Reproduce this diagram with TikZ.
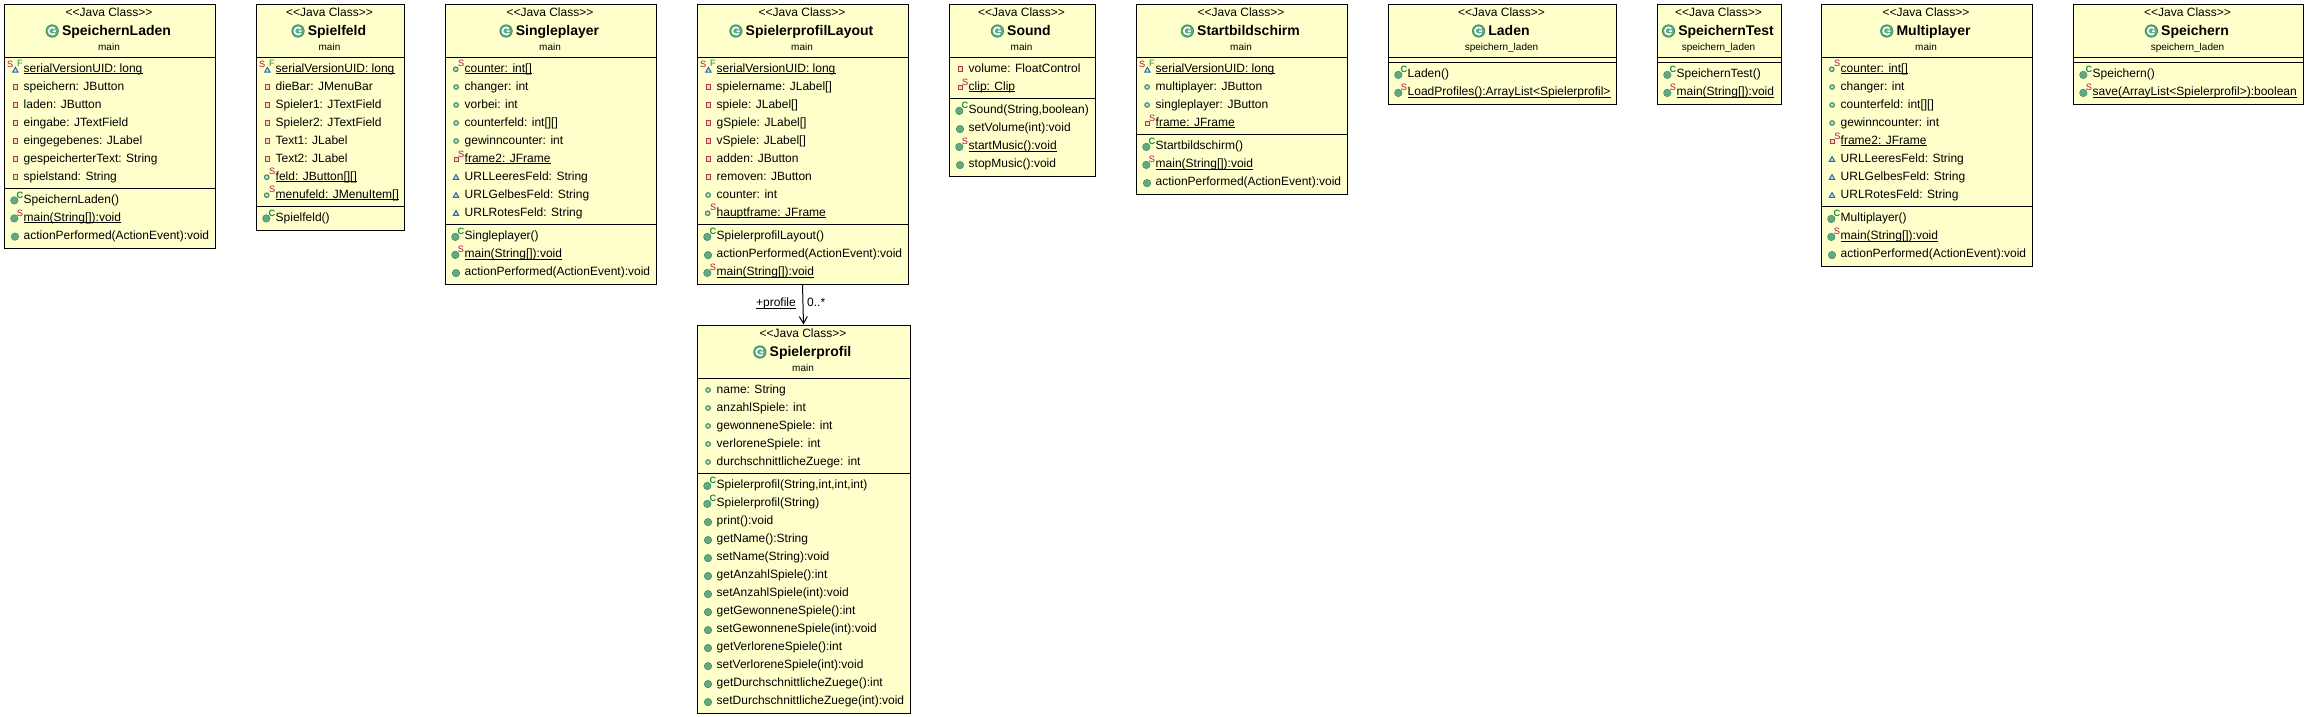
\documentclass[tikz,border=0pt]{standalone}
\usepackage{fontspec}
\setmainfont{Liberation Sans}
\usetikzlibrary{arrows.meta}
\definecolor{umlfill}{HTML}{FFFFCC}
\definecolor{iconred}{HTML}{B0384C}
\definecolor{iconredfill}{HTML}{F6D8C4}
\definecolor{icongreen}{HTML}{3F8F66}
\definecolor{icongreenfill}{HTML}{62AB82}
\definecolor{iconblue}{HTML}{2A6A9E}
\definecolor{iconbluefill}{HTML}{D2E4F2}
\definecolor{modred}{HTML}{B0124A}
\definecolor{modgreen}{HTML}{1E8A4E}
\tikzset{
  x=1pt,y=-1pt,
  classbox/.style={draw=black,line width=1pt,fill=umlfill,inner sep=0pt,anchor=north west},
  divider/.style={draw=black,line width=1pt},
  stereotype/.style={inner sep=0pt,anchor=base,font=\fontsize{12}{14}\selectfont},
  classname/.style={inner sep=0pt,anchor=base,font=\bfseries\fontsize{14}{16}\selectfont},
  pkgname/.style={inner sep=0pt,anchor=base,font=\fontsize{10}{12}\selectfont},
  rowtext/.style={inner sep=0pt,anchor=base west,text depth=1.2pt,font=\fontsize{12}{14}\selectfont},
  ulined/.style={append after command={(\tikzlastnode.south west) edge[draw,line width=.9pt] (\tikzlastnode.south east)}},
  modifier/.style={inner sep=0pt,font=\fontsize{9.2}{10}\selectfont},
  privmark/.style={draw=iconred,fill=iconredfill,line width=1pt},
  pubmark/.style={draw=icongreen,fill=white!70!icongreen,line width=1.1pt},
  pkgmark/.style={draw=iconblue,fill=iconbluefill,line width=1pt,line join=miter},
  methmark/.style={draw=icongreen,fill=icongreenfill,line width=.6pt},
  assoc/.style={draw=black,line width=1pt,-{Straight Barb[length=7pt,width=8pt]}},
  attrpriv/.style={},attrpub/.style={},attrpkg/.style={},methpub/.style={},methctor/.style={},
  attrprivs/.style={ulined},attrpubs/.style={ulined},attrpkgsf/.style={ulined},meths/.style={ulined},
  pics/attrpriv/.style={code={\draw[privmark] (-10.5,-5.4) rectangle (-6.1,-1);}},
  pics/attrpub/.style={code={\draw[pubmark] (-8.4,-3.2) circle[radius=2.3];}},
  pics/attrpkg/.style={code={\draw[pkgmark] (-11.2,-.8) -- (-5.8,-.8) -- (-8.5,-5.6) -- cycle;}},
  pics/attrprivs/.style={code={
    \draw[privmark] (-10.4,-4.8) rectangle (-6,-.4);
    \node[modifier,text=modred] at (-3.2,-8.2) {S};}},
  pics/attrpubs/.style={code={
    \draw[pubmark] (-8.8,-3) circle[radius=2.3];
    \node[modifier,text=modred] at (-3.4,-8.4) {S};}},
  pics/attrpkgsf/.style={code={
    \draw[pkgmark] (-10.8,0) -- (-5.4,0) -- (-8.1,-4.8) -- cycle;
    \node[modifier,text=modred] at (-13.2,-8.2) {S};
    \node[modifier,text=modgreen] at (-3.6,-8.6) {F};}},
  pics/methpub/.style={code={\draw[methmark] (-8.5,-2.6) circle[radius=3.7];}},
  pics/methctor/.style={code={
    \draw[methmark] (-9.2,-2.8) circle[radius=3.7];
    \node[modifier,text=modgreen,font=\bfseries\fontsize{9.2}{10}\selectfont] at (-3.6,-8.2) {C};}},
  pics/meths/.style={code={
    \draw[methmark] (-9.2,-2.8) circle[radius=3.7];
    \node[modifier,text=modred] at (-3.6,-8.2) {S};}},
  pics/classicon/.style={code={
    \draw[fill=icongreenfill,draw=icongreen,line width=.8pt] (0,0) circle[radius=6.2];
    \draw[white,line width=1.5pt,y=1pt] (2.8,2.35) arc[start angle=40,end angle=320,radius=3.65] (3.6,-.2) -- (.6,-.2);}},
}
\newcommand{\umlclass}[8]{
  \node[classbox,minimum width=#4,minimum height=#5] (#1) at (#2,#3) {};
  \draw[divider] (#1.west |- 0,#3+54) -- (#1.east |- 0,#3+54);
  \draw[divider] (#1.west |- 0,#6) -- (#1.east |- 0,#6);
  \node[stereotype] (#1-kind) at (#2+.5*#4,#3+13.2) {<{}<Java Class>{}>};
  \node[classname] (#1-name) at (#2+.5*#4+7.5,#3+32.2) {#7};
  \pic at ([xshift=-9.6,yshift=4.7]#1-name.base west) {classicon};
  \node[pkgname] (#1-pkg) at (#2+.5*#4,#3+47.2) {#8};
}
\newcommand{\umlrows}[4]{
  \foreach \ico/\txt [count=\k from 0] in {#4} {
    \node[rowtext,\ico] (#1-\k) at (#2+20,#3+15.2+18*\k) {\txt};
    \pic at (#1-\k.base west) {\ico};
  }
}
\begin{document}
\begin{tikzpicture}
  \useasboundingbox (0,0) rectangle (2306,716);

  \umlclass{SpeichernLaden}{3.5}{3.5}{211}{244}{188.5}{SpeichernLaden}{main}
  \umlrows{SpeichernLaden-a}{3.5}{57}{attrpkgsf/serialVersionUID: long,attrpriv/speichern: JButton,attrpriv/laden: JButton,attrpriv/eingabe: JTextField,attrpriv/eingegebenes: JLabel,attrpriv/gespeicherterText: String,attrpriv/spielstand: String}
  \umlrows{SpeichernLaden-m}{3.5}{188}{methctor/SpeichernLaden(),meths/main(String[]):void,methpub/actionPerformed(ActionEvent):void}

  \umlclass{Spielfeld}{255.5}{3.5}{148}{226}{206.5}{Spielfeld}{main}
  \umlrows{Spielfeld-a}{255.5}{57}{attrpkgsf/serialVersionUID: long,attrpriv/dieBar: JMenuBar,attrpriv/Spieler1: JTextField,attrpriv/Spieler2: JTextField,attrpriv/Text1: JLabel,attrpriv/Text2: JLabel,attrpubs/feld: JButton[][],attrpubs/menufeld: JMenuItem[]}
  \umlrows{Spielfeld-m}{255.5}{206}{methctor/Spielfeld()}

  \umlclass{Singleplayer}{444.5}{3.5}{211}{280}{224.5}{Singleplayer}{main}
  \umlrows{Singleplayer-a}{444.5}{57}{attrpubs/counter: int[],attrpub/changer: int,attrpub/vorbei: int,attrpub/counterfeld: int[][],attrpub/gewinncounter: int,attrprivs/frame2: JFrame,attrpkg/URLLeeresFeld: String,attrpkg/URLGelbesFeld: String,attrpkg/URLRotesFeld: String}
  \umlrows{Singleplayer-m}{444.5}{224.5}{methctor/Singleplayer(),meths/main(String[]):void,methpub/actionPerformed(ActionEvent):void}

  \umlclass{SpielerprofilLayout}{696.5}{3.5}{211}{280}{224.5}{SpielerprofilLayout}{main}
  \umlrows{SpielerprofilLayout-a}{696.5}{57}{attrpkgsf/serialVersionUID: long,attrpriv/spielername: JLabel[],attrpriv/spiele: JLabel[],attrpriv/gSpiele: JLabel[],attrpriv/vSpiele: JLabel[],attrpriv/adden: JButton,attrpriv/removen: JButton,attrpub/counter: int,attrpubs/hauptframe: JFrame}
  \umlrows{SpielerprofilLayout-m}{696.5}{224.5}{methctor/SpielerprofilLayout(),methpub/actionPerformed(ActionEvent):void,meths/main(String[]):void}

  \umlclass{Spielerprofil}{696.5}{324.5}{213}{388}{473.5}{Spielerprofil}{main}
  \umlrows{Spielerprofil-a}{696.5}{378}{attrpub/name: String,attrpub/anzahlSpiele: int,attrpub/gewonneneSpiele: int,attrpub/verloreneSpiele: int,attrpub/durchschnittlicheZuege: int}
  \umlrows{Spielerprofil-m}{696.5}{473.5}{methctor/{Spielerprofil(String,int,int,int)},methctor/Spielerprofil(String),methpub/print():void,methpub/getName():String,methpub/setName(String):void,methpub/getAnzahlSpiele():int,methpub/setAnzahlSpiele(int):void,methpub/getGewonneneSpiele():int,methpub/setGewonneneSpiele(int):void,methpub/getVerloreneSpiele():int,methpub/setVerloreneSpiele(int):void,methpub/getDurchschnittlicheZuege():int,methpub/setDurchschnittlicheZuege(int):void}

  \umlclass{Sound}{948.5}{3.5}{146}{172}{98.5}{Sound}{main}
  \umlrows{Sound-a}{948.5}{57}{attrpriv/volume: FloatControl,attrprivs/clip: Clip}
  \umlrows{Sound-m}{948.5}{98.5}{methctor/{Sound(String,boolean)},methpub/setVolume(int):void,meths/startMusic():void,methpub/stopMusic():void}

  \umlclass{Startbildschirm}{1135.5}{3.5}{211}{190}{134.5}{Startbildschirm}{main}
  \umlrows{Startbildschirm-a}{1135.5}{57}{attrpkgsf/serialVersionUID: long,attrpub/multiplayer: JButton,attrpub/singleplayer: JButton,attrprivs/frame: JFrame}
  \umlrows{Startbildschirm-m}{1135.5}{134.5}{methctor/Startbildschirm(),meths/main(String[]):void,methpub/actionPerformed(ActionEvent):void}

  \umlclass{Laden}{1387.5}{3.5}{228}{100}{62.5}{Laden}{speichern\_laden}
  \umlrows{Laden-m}{1387.5}{62.5}{methctor/Laden(),meths/LoadProfiles():ArrayList<Spielerprofil>}

  \umlclass{SpeichernTest}{1656.5}{3.5}{124}{100}{62.5}{SpeichernTest}{speichern\_laden}
  \umlrows{SpeichernTest-m}{1656.5}{62.5}{methctor/SpeichernTest(),meths/main(String[]):void}

  \umlclass{Multiplayer}{1820.5}{3.5}{211}{262}{206.5}{Multiplayer}{main}
  \umlrows{Multiplayer-a}{1820.5}{57}{attrpubs/counter: int[],attrpub/changer: int,attrpub/counterfeld: int[][],attrpub/gewinncounter: int,attrprivs/frame2: JFrame,attrpkg/URLLeeresFeld: String,attrpkg/URLGelbesFeld: String,attrpkg/URLRotesFeld: String}
  \umlrows{Multiplayer-m}{1820.5}{206.5}{methctor/Multiplayer(),meths/main(String[]):void,methpub/actionPerformed(ActionEvent):void}

  \umlclass{Speichern}{2072.5}{3.5}{230}{100}{62.5}{Speichern}{speichern\_laden}
  \umlrows{Speichern-m}{2072.5}{62.5}{methctor/Speichern(),meths/save(ArrayList<Spielerprofil>):boolean}

  \draw[assoc] (SpielerprofilLayout.south) to (Spielerprofil.north);
  \node[rowtext,ulined,anchor=base east] (profilerole) at (796,306.7) {+profile};
  \node[rowtext] (profilemult) at (807,306.7) {0..*};
\end{tikzpicture}
\end{document}
